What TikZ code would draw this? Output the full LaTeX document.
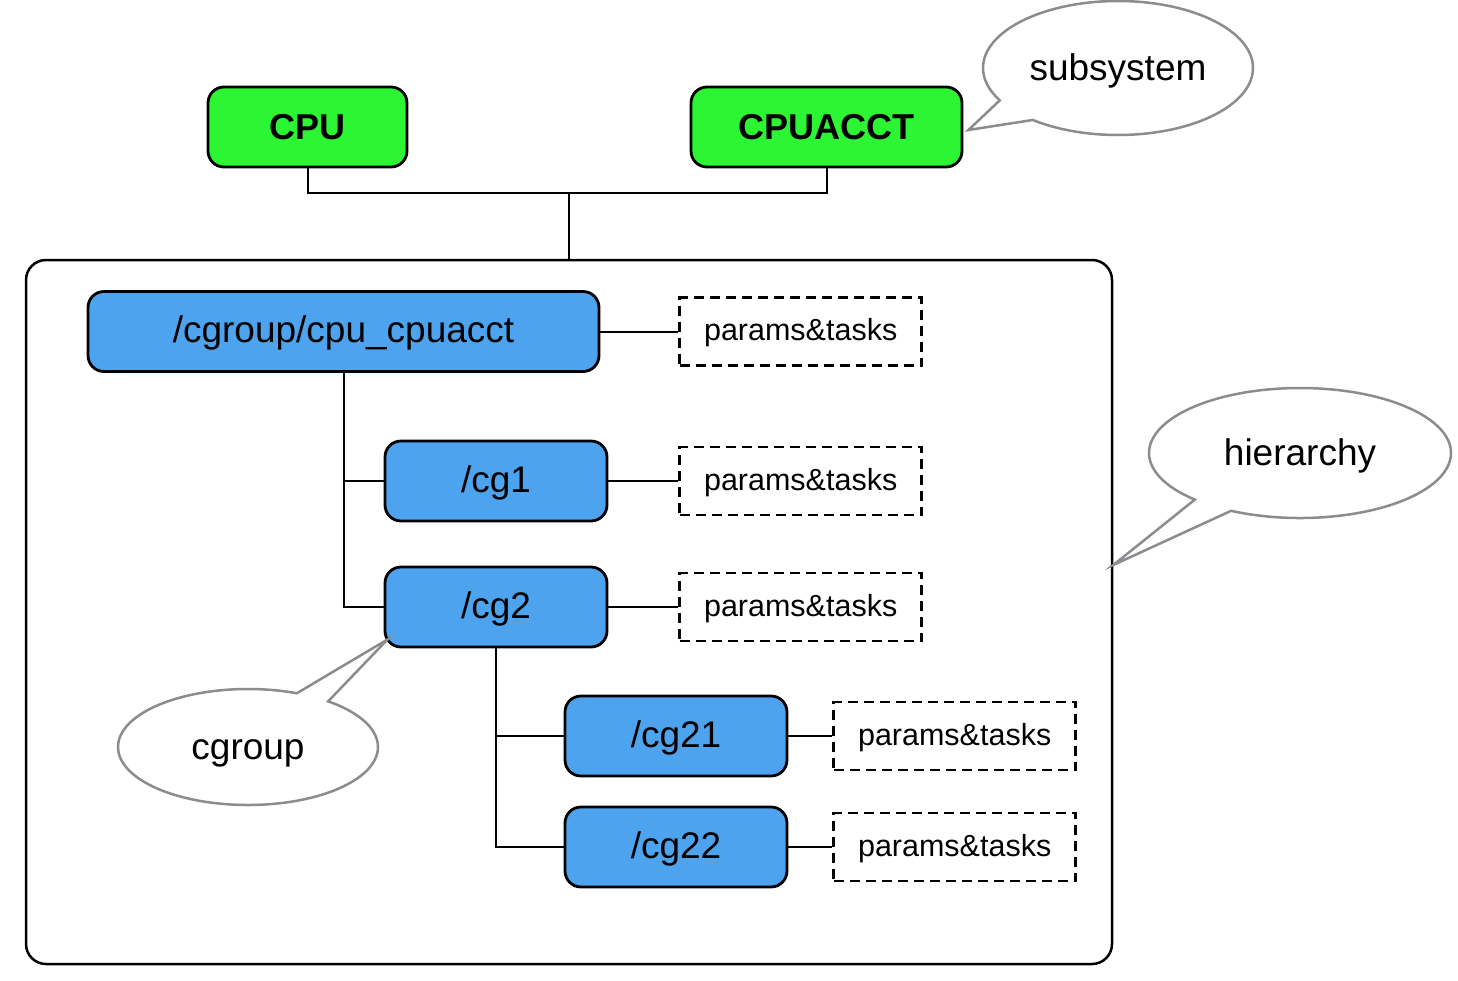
\documentclass[tikz,border=0pt]{standalone}
\usepackage{fontspec}
\setmainfont{Liberation Sans}
\usetikzlibrary{shapes.callouts}
\usetikzlibrary{positioning}

\definecolor{subgreen}{RGB}{44,245,52}
\definecolor{cgblue}{RGB}{77,163,238}
\definecolor{notegray}{RGB}{140,140,144}

\begin{document}
\begin{tikzpicture}[x=1pt,y=-1pt,line width=2pt,
    sub node/.style={draw,line width=2.8pt,fill=subgreen,rounded corners=16pt,minimum height=80pt,inner sep=0pt,
      font=\fontsize{36}{40}\selectfont\bfseries},
    cg node/.style={draw,line width=2.8pt,fill=cgblue,rounded corners=16pt,minimum height=80pt,inner sep=0pt,
      text height=28pt,text depth=5.5pt,font=\fontsize{37}{42}\selectfont},
    par node/.style={draw,line width=2.5pt,dash pattern=on 10pt off 6pt,minimum width=242pt,minimum height=68pt,
      inner sep=0pt,text height=23pt,text depth=4.5pt,font=\fontsize{30.5}{36}\selectfont},
    note node/.style={ellipse callout,draw=notegray,line width=2.5pt,fill=white,inner sep=0pt,
      text height=25pt,text depth=0pt,font=\fontsize{37}{42}\selectfont}
    ]
    \useasboundingbox (0,0) rectangle (1458,980);

    % subsystems
    \node[sub node,minimum width=199pt](cpu) at (307.5,127){CPU};
    \node[sub node,minimum width=271pt](acct) at (826.5,127){CPUACCT};

    % hierarchy
    \node[draw,line width=2.5pt,rounded corners=20pt,minimum width=1086pt,minimum height=704pt](hier) at (569,612){};
    \coordinate (j) at (569,193);

    \node[cg node,minimum width=511pt](root) at (343.5,331.5){/cgroup/cpu\_cpuacct};
    \node[cg node,minimum width=222pt](cg1) at (496,481){/cg1};
    \node[cg node,minimum width=222pt](cg2) at (496,607){/cg2};
    \node[cg node,minimum width=222pt](cg21) at (676,736){/cg21};
    \node[cg node,minimum width=222pt](cg22) at (676,847){/cg22};

    \node[par node](p0)[right=78pt of root]{params\&tasks};
    \node[par node](p1)[right=70pt of cg1]{params\&tasks};
    \node[par node](p2)[right=70pt of cg2]{params\&tasks};
    \node[par node](p3)[right=44pt of cg21]{params\&tasks};
    \node[par node](p4)[right=44pt of cg22]{params\&tasks};

    \draw (cpu.south) |- (j) -| (acct.south);
    \draw (j) -- (hier.north);
    \draw (root.south) |- (cg1.west);
    \draw (root.south) |- (cg2.west);
    \draw (cg2.south) |- (cg21.west);
    \draw (cg2.south) |- (cg22.west);
    \draw (root.east) -- (p0.west);
    \draw (cg1.east) -- (p1.west);
    \draw (cg2.east) -- (p2.west);
    \draw (cg21.east) -- (p3.west);
    \draw (cg22.east) -- (p4.west);

    % notes
    \node[note node,minimum width=270pt,minimum height=134pt,callout pointer arc=22,
      callout absolute pointer={([xshift=5pt,yshift=-3pt]acct.east)}](n0) at (1118,68){subsystem};
    \node[note node,minimum width=302pt,minimum height=130pt,callout pointer arc=17,
      callout absolute pointer={([yshift=47pt]hier.east)}](n1) at (1300,453){hierarchy};
    \node[note node,minimum width=260pt,minimum height=116pt,callout pointer arc=16,
      callout absolute pointer={([xshift=4pt,yshift=9pt]cg2.south west)}](n2) at (248,747){cgroup};
  \end{tikzpicture}
\end{document}
